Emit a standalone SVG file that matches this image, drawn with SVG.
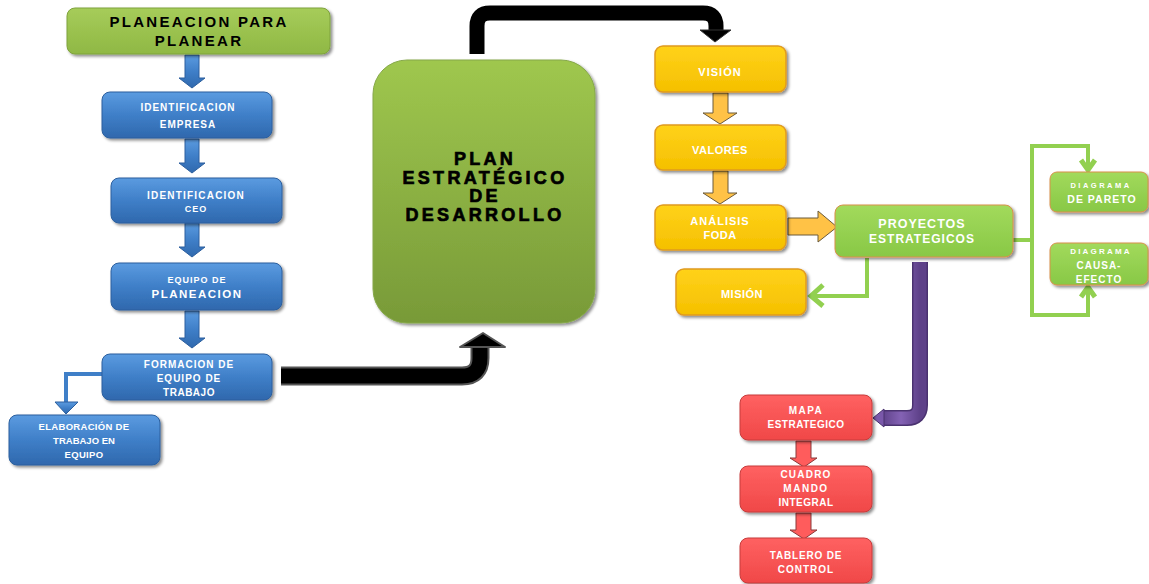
<svg xmlns="http://www.w3.org/2000/svg" width="1149" height="584" viewBox="0 0 1149 584">
<defs>
<linearGradient id="gBlue" x1="0" y1="0" x2="0" y2="1"><stop offset="0" stop-color="#5b9be0"/><stop offset="0.5" stop-color="#3f7fc8"/><stop offset="1" stop-color="#2f68ad"/></linearGradient>
<linearGradient id="gGreenTop" x1="0" y1="0" x2="0" y2="1"><stop offset="0" stop-color="#a6cc5a"/><stop offset="1" stop-color="#8fb844"/></linearGradient>
<linearGradient id="gBig" x1="0" y1="0" x2="0" y2="1"><stop offset="0" stop-color="#9fc74e"/><stop offset="1" stop-color="#789a38"/></linearGradient>
<linearGradient id="gYellow" x1="0" y1="0" x2="0" y2="1"><stop offset="0" stop-color="#ffd21a"/><stop offset="1" stop-color="#f5c000"/></linearGradient>
<linearGradient id="gLime" x1="0" y1="0" x2="0" y2="1"><stop offset="0" stop-color="#a2da5c"/><stop offset="1" stop-color="#88c846"/></linearGradient>
<linearGradient id="gRed" x1="0" y1="0" x2="0" y2="1"><stop offset="0" stop-color="#ff6161"/><stop offset="1" stop-color="#f04848"/></linearGradient>
<linearGradient id="gPurple" x1="0" y1="0" x2="1" y2="0"><stop offset="0" stop-color="#5e4189"/><stop offset="0.5" stop-color="#8462b4"/><stop offset="1" stop-color="#5e4189"/></linearGradient>
<filter id="sh" x="-10%" y="-10%" width="125%" height="130%"><feDropShadow dx="2" dy="2" stdDeviation="1.5" flood-color="#000" flood-opacity="0.45"/></filter>
<style>
.blue{fill:url(#gBlue);stroke:#2c5f9e;stroke-width:1;filter:url(#sh)}
.yel{fill:url(#gYellow);stroke:#e09a20;stroke-width:1.5;filter:url(#sh)}
.lime{fill:url(#gLime);stroke:#d9904a;stroke-width:1;filter:url(#sh)}
.red{fill:url(#gRed);stroke:#c83c3c;stroke-width:1;filter:url(#sh)}
.wt{fill:#fff;font-family:"Liberation Sans",Arial,sans-serif;font-weight:bold;text-anchor:middle}
.bt{fill:#000;font-family:"Liberation Sans",Arial,sans-serif;font-weight:bold;text-anchor:middle}
.heavy{stroke:#000;stroke-width:0.7}
.barr{fill:url(#gBlue);stroke:#2c5f9e;stroke-width:1}
.oarr{fill:#ffc246;stroke:#6b5a3a;stroke-width:1}
.rarr{fill:#ff5c5c;stroke:#8a3a3a;stroke-width:1}
.gl{fill:none;stroke:#92d050;stroke-width:4;stroke-linejoin:miter}
</style>
</defs>

<g id="connectors">
  <polygon class="barr" points="185,55 199,55 199,78 205,78 192,88 179,78 185,78"/>
  <polygon class="barr" points="185,139 199,139 199,163 205,163 192,173 179,163 185,163"/>
  <polygon class="barr" points="185,223 199,223 199,247 205,247 192,257 179,247 185,247"/>
  <polygon class="barr" points="185,311 199,311 199,338 205,338 192,348 179,338 185,338"/>
  <path d="M102,374 H66 V404" fill="none" stroke="#3f7fc8" stroke-width="4"/>
  <polygon class="barr" points="55,402 78,402 66,414"/>
  <path d="M281,376 H462 Q480,376 480,358 V345" fill="none" stroke="#555" stroke-width="19"/>
  <path d="M281,376 H462 Q480,376 480,358 V345" fill="none" stroke="#000" stroke-width="15"/>
  <polygon points="460,347 505,347 483,333" fill="#000" stroke="#555" stroke-width="2" stroke-linejoin="round"/>
  <path d="M477,54 V26 Q477,13 490,13 H703 Q716,13 716,26 V31" fill="none" stroke="#000" stroke-width="15"/>
  <polygon points="700,30 731,30 715,42" fill="#000" stroke="#333" stroke-width="1"/>
  <polygon class="oarr" points="713,93 728,93 728,113 737,113 720,124 703,113 713,113"/>
  <polygon class="oarr" points="713,171 728,171 728,193 737,193 720,204 703,193 713,193"/>
  <polygon class="oarr" points="788,218 818,218 818,211 837,227 818,242 818,235 788,235"/>
  <path class="gl" d="M867,258 V296 H812"/>
  <path d="M823,285 L811,296 L823,306" fill="none" stroke="#92d050" stroke-width="5"/>
  <path class="gl" d="M1013,240 H1032"/>
  <path class="gl" d="M1032,146 V316"/>
  <path class="gl" d="M1030,146 H1088 V168"/>
  <path d="M1081,160 L1088,170 L1095,160" fill="none" stroke="#92d050" stroke-width="5"/>
  <path class="gl" d="M1030,315 H1088 V289"/>
  <path d="M1081,297 L1088,287 L1095,297" fill="none" stroke="#92d050" stroke-width="5"/>
  <path d="M920,262 V405 Q920,418 907,418 H882" fill="none" stroke="#4a3270" stroke-width="16"/>
  <path d="M920,262 V405 Q920,418 907,418 H882" fill="none" stroke="url(#gPurple)" stroke-width="13"/>
  <polygon points="884,409 884,427 873,418" fill="#7a58aa" stroke="#4a3270" stroke-width="1"/>
  <polygon class="rarr" points="796,441 811,441 811,458 817,458 804,467 790,458 796,458"/>
  <polygon class="rarr" points="796,513 811,513 811,530 817,530 804,539 790,530 796,530"/>
</g>

<g id="n-planeacion">
  <rect x="67" y="8" width="263" height="46" rx="8" fill="url(#gGreenTop)" stroke="#7fa33c" stroke-width="1" filter="url(#sh)"/>
  <text class="bt" x="199" y="27" font-size="15" letter-spacing="2.3">PLANEACION PARA</text>
  <text class="bt" x="199" y="46" font-size="15" letter-spacing="2.3">PLANEAR</text>
</g>
<g id="n-idempresa">
  <rect class="blue" x="102" y="92" width="170" height="46" rx="8"/>
  <text class="wt" x="188" y="111" font-size="10" letter-spacing="1">IDENTIFICACION</text>
  <text class="wt" x="188" y="128" font-size="10" letter-spacing="1">EMPRESA</text>
</g>
<g id="n-idceo">
  <rect class="blue" x="111" y="178" width="171" height="45" rx="8"/>
  <text class="wt" x="196" y="199" font-size="10" letter-spacing="1.2">IDENTIFICACION</text>
  <text class="wt" x="196" y="212" font-size="9" letter-spacing="1">CEO</text>
</g>
<g id="n-equipo">
  <rect class="blue" x="111" y="263" width="171" height="47" rx="8"/>
  <text class="wt" x="197" y="283" font-size="9" letter-spacing="1">EQUIPO DE</text>
  <text class="wt" x="197" y="298" font-size="11.5" letter-spacing="1.5">PLANEACION</text>
</g>
<g id="n-formacion">
  <rect class="blue" x="102" y="354" width="170" height="46" rx="8"/>
  <text class="wt" x="189" y="368" font-size="10" letter-spacing="1">FORMACION DE</text>
  <text class="wt" x="189" y="382" font-size="10" letter-spacing="1">EQUIPO  DE</text>
  <text class="wt" x="189" y="396" font-size="10" letter-spacing="0.5">TRABAJO</text>
</g>
<g id="n-elaboracion">
  <rect class="blue" x="9" y="415" width="151" height="50" rx="8"/>
  <text class="wt" x="84" y="430" font-size="9.5" letter-spacing="0.3">ELABORACIÓN DE</text>
  <text class="wt" x="84" y="444" font-size="9.5" letter-spacing="0">TRABAJO EN</text>
  <text class="wt" x="84" y="458" font-size="9.5" letter-spacing="0.3">EQUIPO</text>
</g>
<g id="n-plan">
  <rect x="373" y="60" width="222" height="263" rx="34" fill="url(#gBig)" stroke="#86a84a" stroke-width="1" filter="url(#sh)"/>
  <text class="bt heavy" x="485" y="165" font-size="18" letter-spacing="3.3">PLAN</text>
  <text class="bt heavy" x="485" y="184" font-size="18" letter-spacing="3.3">ESTRATÉGICO</text>
  <text class="bt heavy" x="485" y="202" font-size="18" letter-spacing="3.3">DE</text>
  <text class="bt heavy" x="485" y="221" font-size="18" letter-spacing="3.3">DESARROLLO</text>
</g>
<g id="n-vision">
  <rect class="yel" x="655" y="46" width="131" height="46" rx="8"/>
  <text class="wt" x="720" y="76" font-size="11" letter-spacing="1">VISIÓN</text>
</g>
<g id="n-valores">
  <rect class="yel" x="655" y="125" width="131" height="45" rx="8"/>
  <text class="wt" x="720" y="154" font-size="11" letter-spacing="0.5">VALORES</text>
</g>
<g id="n-foda">
  <rect class="yel" x="655" y="205" width="131" height="45" rx="8"/>
  <text class="wt" x="720" y="225" font-size="11" letter-spacing="1">ANÁLISIS</text>
  <text class="wt" x="720" y="239" font-size="11" letter-spacing="0.5">FODA</text>
</g>
<g id="n-mision">
  <rect class="yel" x="676" y="269" width="130" height="46" rx="8"/>
  <text class="wt" x="742" y="298" font-size="11" letter-spacing="0.5">MISIÓN</text>
</g>
<g id="n-proyectos">
  <rect class="lime" x="835" y="205" width="178" height="52" rx="8"/>
  <text class="wt" x="922" y="228" font-size="12.5" letter-spacing="1">PROYECTOS</text>
  <text class="wt" x="922" y="243" font-size="12" letter-spacing="1">ESTRATEGICOS</text>
</g>
<g id="n-pareto">
  <rect class="lime" x="1050" y="172" width="98" height="40" rx="7"/>
  <text class="wt" x="1101" y="188" font-size="7.5" letter-spacing="2.5">DIAGRAMA</text>
  <text class="wt" x="1102" y="203" font-size="10.5" letter-spacing="1">DE PARETO</text>
</g>
<g id="n-causa">
  <rect class="lime" x="1050" y="243" width="98" height="42" rx="7"/>
  <text class="wt" x="1101" y="254" font-size="8" letter-spacing="2.2">DIAGRAMA</text>
  <text class="wt" x="1099" y="269" font-size="10" letter-spacing="1">CAUSA-</text>
  <text class="wt" x="1099" y="283" font-size="10" letter-spacing="1">EFECTO</text>
</g>
<g id="n-mapa">
  <rect class="red" x="740" y="395" width="132" height="45" rx="8"/>
  <text class="wt" x="806" y="414" font-size="10" letter-spacing="1.5">MAPA</text>
  <text class="wt" x="806" y="428" font-size="10" letter-spacing="0.5">ESTRATEGICO</text>
</g>
<g id="n-cuadro">
  <rect class="red" x="740" y="466" width="132" height="46" rx="8"/>
  <text class="wt" x="806" y="478" font-size="10" letter-spacing="1.2">CUADRO</text>
  <text class="wt" x="806" y="492" font-size="10" letter-spacing="1.5">MANDO</text>
  <text class="wt" x="806" y="506" font-size="10" letter-spacing="0.5">INTEGRAL</text>
</g>
<g id="n-tablero">
  <rect class="red" x="740" y="538" width="132" height="45" rx="8"/>
  <text class="wt" x="806" y="559" font-size="10" letter-spacing="0.8">TABLERO DE</text>
  <text class="wt" x="806" y="573" font-size="10" letter-spacing="1">CONTROL</text>
</g>
</svg>
